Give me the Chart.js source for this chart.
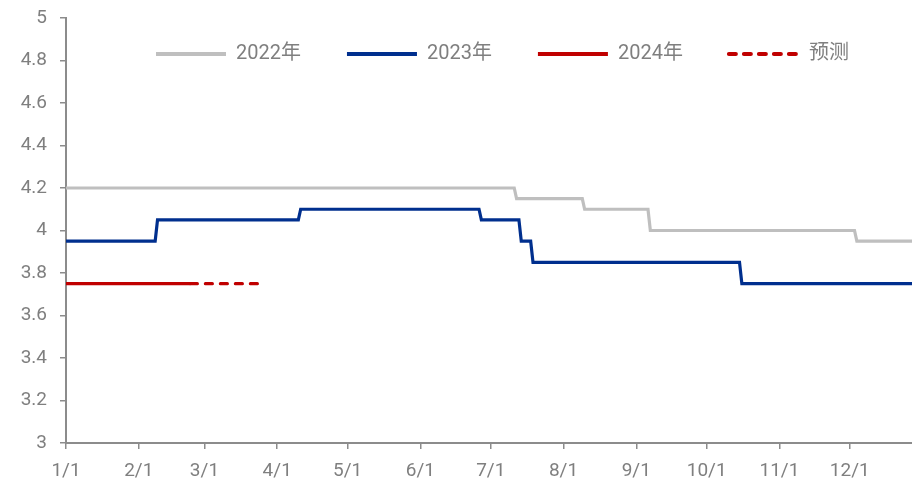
<!DOCTYPE html>
<html><head><meta charset="utf-8">
<script src="https://cdn.jsdelivr.net/npm/chart.js@4.4.1/dist/chart.umd.min.js"></script>
<style>html,body{margin:0;padding:0;background:#fff}#wrap{width:912px;height:481px}</style>
</head><body><div id="wrap"><canvas id="c" width="912" height="481"></canvas></div>
<script>
// ---- data ----
const monthTicks = ["1/1","2/1","3/1","4/1","5/1","6/1","7/1","8/1","9/1","10/1","11/1","12/1"];
const yTicks = [3, 3.2, 3.4, 3.6, 3.8, 4, 4.2, 4.4, 4.6, 4.8, 5];
const yTickLabels = ["3","3.2","3.4","3.6","3.8","4","4.2","4.4","4.6","4.8","5"];
const seriesNames = ["2022年", "2023年", "2024年", "预测"];

const dates2022 = ["1/1","7/11","7/12","8/9","8/10","9/6","9/7","12/3","12/4","12/31"];
const values2022 = [4.20, 4.20, 4.15, 4.15, 4.10, 4.10, 4.00, 4.00, 3.95, 3.95];

const dates2023 = ["1/1","2/8","2/9","4/10","4/11","6/26","6/27","7/13","7/14","7/18","7/19","10/15","10/16","12/31"];
const values2023 = [3.95, 3.95, 4.05, 4.05, 4.10, 4.10, 4.05, 4.05, 3.95, 3.95, 3.85, 3.85, 3.75, 3.75];

const dates2024 = ["1/1","2/23"];
const values2024 = [3.75, 3.75];

const datesForecast = ["2/23","3/25"];
const valuesForecast = [3.75, 3.75];

// ---- helpers ----
const cumDays = [0,31,59,90,120,151,181,212,243,273,304,334];
function doy(s){ const [m,d] = s.split('/').map(Number); return cumDays[m-1] + d - 1; }
function pts(ds, vs){ return ds.map((d,i) => ({x: doy(d), y: vs[i]})); }
const monthStarts = monthTicks.map(doy);

const FONT = "Roboto, 'Noto Sans CJK SC', sans-serif";
const axisColor = '#8c8c8c';
const textColor = '#7f7f7f';

const legendPlace = {
  id: 'legendPlace',
  beforeLayout(chart){
    const lg = chart.legend;
    if (lg && !lg._patched){
      const orig = lg.fit;
      lg.fit = function(){ orig.call(this); this.height = 0; };
      lg._patched = true;
    }
  },
  afterLayout(chart){
    const lg = chart.legend; if (!lg) return;
    lg.left = 110; lg.top = -2; lg.bottom = 95; lg.height = 97;
  }
};

new Chart(document.getElementById('c'), {
  type: 'line',
  data: {
    datasets: [
      {label: seriesNames[0], data: pts(dates2022, values2022), borderColor:'#bfbfbf', backgroundColor:'#bfbfbf', borderWidth:3.2},
      {label: seriesNames[1], data: pts(dates2023, values2023), borderColor:'#002f8e', backgroundColor:'#002f8e', borderWidth:3.2},
      {label: seriesNames[2], data: pts(dates2024, values2024), borderColor:'#c00000', backgroundColor:'#c00000', borderWidth:3.2},
      {label: seriesNames[3], data: pts(datesForecast, valuesForecast), borderColor:'#c00000', backgroundColor:'#c00000', borderWidth:3.2, borderDash:[7,8], borderCapStyle:'round'}
    ]
  },
  options: {
    responsive: false,
    animation: false,
    devicePixelRatio: 1,
    layout: {padding: {top: 18, left: 0, right: 0, bottom: 0}},
    elements: {point: {radius: 0, hoverRadius: 0}, line: {tension: 0}},
    plugins: {
      tooltip: {enabled: false},
      legend: {
        display: true, position: 'top', align: 'start',
        labels: {
          usePointStyle: true, pointStyle: 'line', pointStyleWidth: 70,
          padding: 46, color: textColor, font: {size: 20, family: FONT},
          generateLabels: chart => Chart.defaults.plugins.legend.labels.generateLabels(chart).map(it => {
            const ds = chart.data.datasets[it.datasetIndex];
            it.lineDash = ds.borderDash || [];
            it.lineCap = ds.borderCapStyle || 'butt';
            it.lineWidth = 4;
            return it;
          })
        }
      }
    },
    scales: {
      x: {
        type: 'linear', min: 0, max: 360.5,
        afterBuildTicks: s => { s.ticks = monthStarts.map(v => ({value: v})); },
        afterFit: s => { s.height = 38; },
        ticks: {callback: (v, i) => monthTicks[i], autoSkip: false, maxRotation: 0, padding: 11, color: textColor, font: {size: 19, family: FONT}},
        grid: {drawOnChartArea: false, drawTicks: true, tickLength: 6, color: axisColor, lineWidth: 1.5},
        border: {color: axisColor, width: 2}
      },
      y: {
        type: 'linear', min: 3, max: 5,
        afterBuildTicks: s => { s.ticks = yTicks.map(v => ({value: v})); },
        afterFit: s => { s.width = 66; s.paddingTop = 4; s.paddingBottom = 4; },
        ticks: {callback: (v, i) => yTickLabels[i], padding: 13, color: textColor, font: {size: 19, family: FONT}},
        grid: {drawOnChartArea: false, drawTicks: true, tickLength: 6, color: axisColor, lineWidth: 1.5},
        border: {color: axisColor, width: 2}
      }
    }
  },
  plugins: [legendPlace]
});
</script></body></html>
